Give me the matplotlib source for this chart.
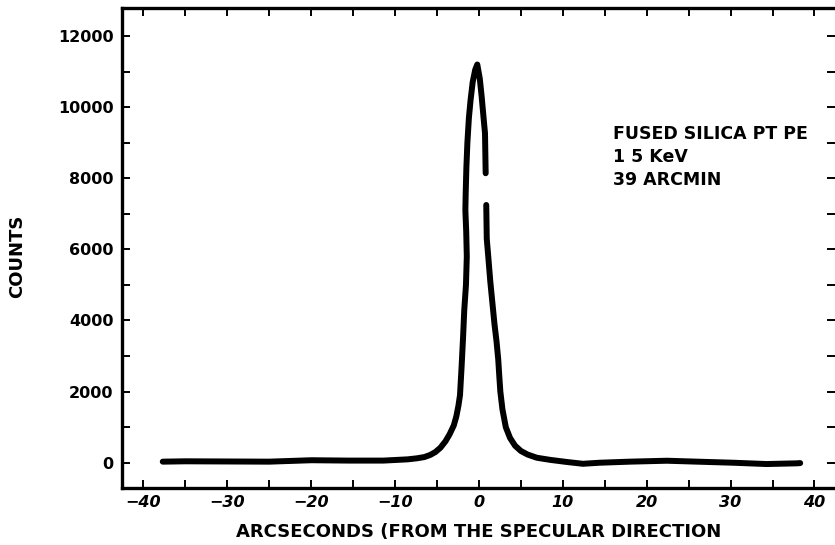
"""Scattering profile of a fused silica flat at 1.5 keV, 39 arcmin grazing."""

import numpy as np
import matplotlib
matplotlib.use("Agg")
import matplotlib.pyplot as plt
from matplotlib.ticker import MultipleLocator

# curve (arcsec, counts); NaN marks the pen gap
arcsec = [-37.7, -35.0, -30.0, -25.0, -20.0, -15.5, -11.4, -8.5, -7.4, -6.5,
          -5.8, -5.2, -4.6, -4.0, -3.5, -3.0, -2.7, -2.45, -2.26, -2.07,
          -1.9, -1.75, -1.55, -1.45, -1.52, -1.62, -1.58, -1.5, -1.38, -1.2,
          -1.0, -0.75, -0.45, -0.2,
          0.1, 0.32, 0.55, 0.72, 0.80, np.nan, 0.87, 0.93, 1.11, 1.35, 1.6,
          1.85, 2.1, 2.3, 2.42, 2.55, 2.8, 3.2, 3.7, 4.3, 5.0, 5.8, 6.9,
          8.5, 10.5, 12.4, 14.4, 18.0, 22.4, 26.0, 30.3, 34.3, 37.9, 38.3]
counts = [30, 40, 35, 30, 70, 60, 60, 95, 124, 160,
          220, 300, 420, 600, 800, 1050, 1300, 1600, 1900, 2700,
          3500, 4300, 5000, 5800, 6500, 7100, 7600, 8300, 9000, 9700,
          10200, 10700, 11050, 11200,
          10800, 10300, 9700, 9266, 8141, np.nan, 7249, 6300, 5795, 5100, 4500,
          3900, 3400, 2900, 2450, 2000, 1500, 1000, 700, 480, 330, 230, 140,
          80, 20, -30, 0, 30, 56, 30, 0, -37, -17, -10]

xticks = [-40, -30, -20, -10, 0, 10, 20, 30, 40]
yticks = [0, 2000, 4000, 6000, 8000, 10000, 12000]
note_lines = ["FUSED SILICA PT PE", "1 5 KeV", "39 ARCMIN"]

plt.rcParams["font.family"] = ["DejaVu Sans"]
plt.rcParams["font.weight"] = "bold"

fig = plt.figure(figsize=(8.35, 5.45), dpi=100)
ax = fig.add_axes([0.1457, 0.1051, 0.8543, 0.8796])

ax.plot(arcsec, counts, color="black", lw=4.3, solid_capstyle="round",
        solid_joinstyle="round")

ax.set_xlim(-42.6, 42.45)
ax.set_ylim(-703, 12779)

ax.set_xticks(xticks)
ax.xaxis.set_minor_locator(MultipleLocator(5))
ax.set_yticks(yticks)
ax.yaxis.set_minor_locator(MultipleLocator(1000))

ax.tick_params(which="both", direction="in", length=5.5, width=1.4,
               top=True, right=True)
ax.tick_params(axis="y", labelsize=11.5, pad=6)
ax.tick_params(axis="x", labelsize=11.5, pad=5)
for lab in ax.get_xticklabels():
    lab.set_fontstyle("italic")
    lab.set_fontweight("bold")
for lab in ax.get_yticklabels():
    lab.set_fontweight("bold")

for side in ("left", "bottom", "top"):
    ax.spines[side].set_linewidth(2.4)
ax.spines["right"].set_visible(False)

ax.set_xlabel("ARCSECONDS (FROM THE SPECULAR DIRECTION", fontsize=13,
              fontweight="bold")
ax.xaxis.set_label_coords(0.5, -0.074)
ax.set_ylabel("COUNTS", fontsize=13, fontweight="bold")
ax.yaxis.set_label_coords(-0.134, 0.483)

for txt, yb in zip(note_lines, [9092, 8459, 7812]):
    ax.text(16.0, yb, txt, fontsize=12.5, fontweight="bold", va="baseline",
            ha="left")

fig.savefig("out.png", dpi=100)
